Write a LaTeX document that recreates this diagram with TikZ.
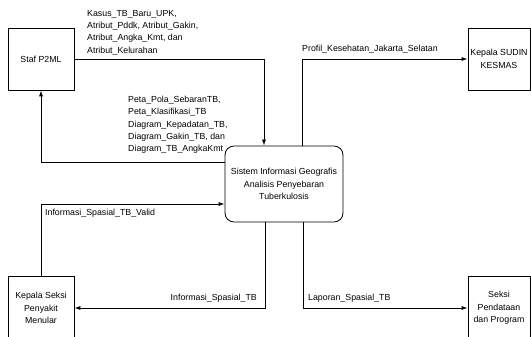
\documentclass[tikz,border=0pt]{standalone}
\usepackage{fontspec}
\setmainfont{Liberation Sans}
\usetikzlibrary{arrows.meta,calc}
\begin{document}
\begin{tikzpicture}[x=1pt,y=-1pt,
  every node/.style={font=\fontsize{8.8}{12.3}\selectfont},
  entity/.style={draw,line width=0.8pt,rectangle,align=center,inner sep=2pt},
  process/.style={draw,line width=0.8pt,rectangle,rounded corners=9pt,align=center,
    minimum width=118pt,minimum height=76pt,inner sep=2pt},
  flow/.style={line width=0.8pt,-{Latex[length=6pt,width=4pt]}},
  lbl/.style={align=left,inner sep=0pt,anchor=north west}]
\clip (0,0) rectangle (531,337);
\fill[white] (0,0) rectangle (531,337);

% external entities and the process
\node[entity,minimum width=66pt,minimum height=62pt] (staf) at (41,59) {Staf P2ML};
\node[entity,minimum width=62pt,minimum height=62pt] (sudin) at (499,59) {Kepala SUDIN\\KESMAS};
\node[entity,minimum width=66pt,minimum height=64pt] (kseksi) at (41,308) {Kepala Seksi\\Penyakit\\Menular};
\node[entity,minimum width=62pt,minimum height=64pt] (seksi) at (499,308) {Seksi\\Pendataan\\dan Program};
\node[process] (sys) at (284,184) {Sistem Informasi Geografis\\Analisis Penyebaran\\Tuberkulosis};

% data flows
\draw[flow] (staf.east) -| ([xshift=-20pt]sys.north);
\draw[flow] ([yshift=22pt]sys.west) -| (staf.south);
\draw[flow] (kseksi.north) |- ([yshift=-20pt]sys.west);
\draw[flow] ([xshift=-19pt]sys.south) |- (kseksi.east);
\draw[flow] ([xshift=19pt]sys.south) |- (seksi.west);
\draw[flow] ([xshift=18pt]sys.north) |- (sudin.west);

% flow labels
\node[lbl] (l1) at (87,10) {Kasus\_TB\_Baru\_UPK,\\Atribut\_Pddk, Atribut\_Gakin,\\Atribut\_Angka\_Kmt, dan\\Atribut\_Kelurahan};
\node[lbl] (l2) at (128,96) {Peta\_Pola\_SebaranTB,\\Peta\_Klasifikasi\_TB\\Diagram\_Kepadatan\_TB,\\Diagram\_Gakin\_TB, dan\\Diagram\_TB\_AngkaKmt};
\node[lbl] (l3) at (302,45) {Profil\_Kesehatan\_Jakarta\_Selatan};
\node[lbl] (l4) at (45,209) {Informasi\_Spasial\_TB\_Valid};
\node[lbl,anchor=north east] (l5) at (257,294) {Informasi\_Spasial\_TB};
\node[lbl] (l6) at (308,294) {Laporan\_Spasial\_TB};
\end{tikzpicture}
\end{document}
